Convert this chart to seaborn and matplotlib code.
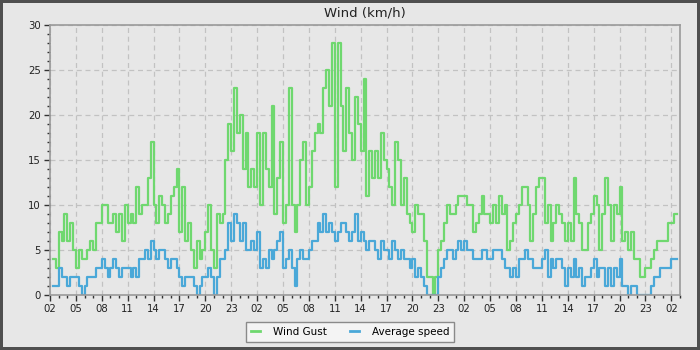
import numpy as np
import pandas as pd
import matplotlib
matplotlib.use("Agg")
import matplotlib.pyplot as plt
import matplotlib.dates as mdates
from matplotlib.ticker import MultipleLocator
import seaborn as sns

# ---- data (20-minute samples starting 02:20 on day 1) ----
start_time = "2024-01-01 02:20"
step_minutes = 20

wind_gust = [
    4, 3, 7, 6, 9, 6, 8, 5, 3, 5, 4, 4, 5, 6, 5, 8, 8, 10, 10, 8, 8, 9, 7, 9, 6, 10, 8,
    9, 8, 12, 9, 10, 10, 13, 17, 10, 8, 11, 10, 8, 9, 11, 12, 14, 7, 12, 6, 8, 5, 3, 6, 4, 5, 7, 10,
    5, 3, 9, 8, 9, 15, 19, 16, 23, 18, 20, 14, 18, 12, 14, 12, 18, 10, 18, 14, 12, 21, 9, 13, 17, 8, 10, 23,
    10, 7, 10, 15, 17, 10, 12, 16, 18, 19, 18, 23, 25, 21, 28, 12, 28, 21, 16, 23, 18, 15, 22, 19, 16, 24, 11, 16,
    13, 16, 13, 18, 15, 14, 12, 10, 17, 15, 10, 13, 9, 8, 7, 10, 9, 9, 6, 2, 2, 0, 2, 5, 6, 8, 10,
    9, 9, 10, 11, 11, 11, 10, 10, 7, 8, 9, 11, 9, 9, 8, 10, 8, 11, 9, 10, 5, 6, 8, 9, 10, 12, 12, 10,
    6, 9, 12, 13, 13, 8, 10, 6, 8, 10, 9, 8, 6, 8, 6, 13, 9, 8, 5, 5, 8, 9, 11, 10, 5, 9, 13, 10,
    6, 10, 9, 12, 6, 7, 5, 7, 4, 4, 2, 2, 3, 3, 4, 5, 6, 6, 6, 6, 8, 8, 9, 9,
]

average_speed = [
    1, 1, 3, 2, 2, 1, 2, 2, 2, 1, 0, 1, 2, 2, 2, 3, 3, 4, 3, 2, 3, 4, 3, 2, 3, 3, 3,
    2, 3, 2, 4, 4, 5, 4, 6, 5, 4, 5, 5, 4, 3, 4, 4, 3, 2, 1, 2, 2, 2, 1, 0, 1, 2, 2, 3,
    2, 0, 2, 4, 4, 5, 8, 6, 9, 8, 6, 8, 5, 5, 6, 5, 7, 3, 4, 3, 5, 4, 5, 6, 7, 3, 4, 5,
    3, 1, 4, 5, 4, 4, 5, 6, 6, 8, 7, 9, 7, 8, 7, 6, 7, 8, 8, 7, 6, 7, 9, 6, 7, 6, 5, 6,
    6, 5, 4, 6, 5, 5, 4, 6, 5, 4, 5, 4, 4, 3, 4, 2, 3, 2, 1, 0, 0, 0, 0, 2, 3, 4, 5,
    5, 4, 5, 6, 5, 6, 5, 5, 4, 4, 4, 5, 5, 4, 4, 5, 5, 5, 4, 3, 3, 2, 3, 2, 4, 4, 5, 4,
    4, 3, 3, 3, 4, 5, 2, 4, 3, 4, 4, 3, 1, 3, 2, 4, 2, 3, 1, 2, 2, 3, 4, 2, 3, 3, 1, 3,
    1, 3, 2, 4, 1, 1, 0, 1, 1, 0, 0, 0, 0, 0, 1, 2, 2, 3, 3, 3, 3, 4, 4, 4,
]

series_names = ["Wind Gust", "Average speed"]
series_colors = ["#6fd86f", "#4aa8d8"]
title_text = "Wind (km/h)"

times = pd.date_range(start_time, periods=len(wind_gust), freq=f"{step_minutes}min")
df = pd.DataFrame({
    "time": np.concatenate([times, times]),
    "value": wind_gust + average_speed,
    "series": [series_names[0]] * len(wind_gust) + [series_names[1]] * len(average_speed),
})

bg = "#e7e7e7"
fig = plt.figure(figsize=(7, 3.5), dpi=100, facecolor=bg, edgecolor="#505050", linewidth=3)
ax = fig.add_axes([50 / 700, 1 - 295 / 350, 630 / 700, 270 / 350])
ax.set_facecolor(bg)

sns.lineplot(data=df, x="time", y="value", hue="series", hue_order=series_names,
             palette=series_colors, drawstyle="steps-post", linewidth=1.6,
             ax=ax, legend=False, estimator=None)

x0 = pd.Timestamp("2024-01-01 02:00")
ax.set_xlim(x0, x0 + pd.Timedelta(hours=73))
ax.set_ylim(0, 30)

ax.xaxis.set_major_locator(mdates.HourLocator(byhour=range(2, 24, 3)))
ax.xaxis.set_minor_locator(mdates.HourLocator())
ax.xaxis.set_major_formatter(mdates.DateFormatter("%H"))
ax.yaxis.set_major_locator(MultipleLocator(5))
ax.yaxis.set_minor_locator(MultipleLocator(1))

ax.grid(True, which="major", color="#c2c2c2", linestyle=(0, (4, 3)), linewidth=0.9)
ax.set_axisbelow(True)
for s in ax.spines.values():
    s.set_color("#9a9a9a")
    s.set_linewidth(1.2)

ax.tick_params(which="major", length=4, width=1, color="#333333", labelsize=7.3,
               labelcolor="#222222", pad=2.5)
ax.tick_params(which="minor", length=2.5, width=1, color="#333333")
ax.set_xlabel("")
ax.set_ylabel("")
ax.set_title(title_text, fontsize=9.5, color="#222222", pad=6)

handles = [plt.Line2D([], [], color=c, linewidth=2) for c in series_colors]
leg = fig.legend(handles, series_names, loc="lower center", bbox_to_anchor=(0.5, 0.008),
                 ncol=2, fontsize=7.5, frameon=True, fancybox=False, framealpha=1,
                 facecolor="#f4f4f4", edgecolor="#8a8a8a", handlelength=0.9,
                 handletextpad=1.2, columnspacing=2.2, borderpad=0.5)
leg.get_frame().set_linewidth(1.0)

fig.savefig("out.png", dpi=100, facecolor=fig.get_facecolor(), edgecolor=fig.get_edgecolor())
